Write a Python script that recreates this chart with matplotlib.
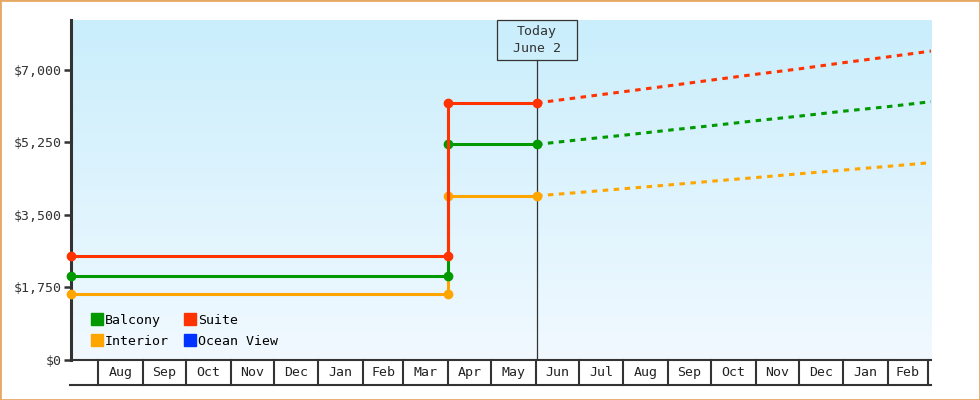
import matplotlib.pyplot as plt
import matplotlib.dates as mdates
import matplotlib.transforms as mtransforms
from matplotlib.patches import Rectangle
from matplotlib.lines import Line2D
import numpy as np
import datetime as dt

plt.rcParams['font.family'] = ['DejaVu Sans Mono']

# timeline
start = dt.date(2021, 7, 13)
end = dt.date(2023, 3, 3)
step_day = dt.date(2022, 4, 1)
today = dt.date(2022, 6, 2)

# price history: before / after the April change
names = ["Balcony", "Interior", "Suite", "Ocean View"]
colors = {"Balcony": "#009900", "Interior": "#ffa500", "Suite": "#ff3300", "Ocean View": "#0033ff"}
old_price = {"Balcony": 2030, "Interior": 1600, "Suite": 2500}
new_price = {"Balcony": 5200, "Interior": 3960, "Suite": 6200}

# forecast, monthly
fc_dates = [dt.date(2022, 6, 2), dt.date(2022, 7, 1), dt.date(2022, 8, 1), dt.date(2022, 9, 1),
            dt.date(2022, 10, 1), dt.date(2022, 11, 1), dt.date(2022, 12, 1), dt.date(2023, 1, 1),
            dt.date(2023, 2, 1), dt.date(2023, 3, 3)]
fc_suite = [6200, 6330, 6470, 6610, 6750, 6890, 7020, 7170, 7310, 7450]
fc_balcony = [5200, 5310, 5420, 5540, 5650, 5770, 5880, 6000, 6110, 6230]
fc_interior = [3960, 4040, 4130, 4220, 4310, 4400, 4490, 4580, 4670, 4760]
forecast = {"Suite": fc_suite, "Balcony": fc_balcony, "Interior": fc_interior}

y_ticks = [0, 1750, 3500, 5250, 7000]
month_starts = [dt.date(2021, 8, 1), dt.date(2021, 9, 1), dt.date(2021, 10, 1), dt.date(2021, 11, 1),
                dt.date(2021, 12, 1), dt.date(2022, 1, 1), dt.date(2022, 2, 1), dt.date(2022, 3, 1),
                dt.date(2022, 4, 1), dt.date(2022, 5, 1), dt.date(2022, 6, 1), dt.date(2022, 7, 1),
                dt.date(2022, 8, 1), dt.date(2022, 9, 1), dt.date(2022, 10, 1), dt.date(2022, 11, 1),
                dt.date(2022, 12, 1), dt.date(2023, 1, 1), dt.date(2023, 2, 1), dt.date(2023, 3, 1)]

dark = "#333333"

fig = plt.figure(figsize=(9.8, 4), dpi=100)
ax = fig.add_axes([71 / 980, 40 / 400, 860 / 980, 340 / 400])

x0, x1 = mdates.date2num(start), mdates.date2num(end)
ax.set_xlim(x0, x1)
ax.set_ylim(0, 8200)

# gradient background
grad = np.linspace(0, 1, 256).reshape(-1, 1)
top_c = np.array([202, 238, 252]) / 255
bot_c = np.array([241, 249, 255]) / 255
img = top_c * (1 - grad[..., None]) + bot_c * grad[..., None]
ax.imshow(img, extent=[0, 1, 0, 1], transform=ax.transAxes, aspect="auto", zorder=0)

lw = 2.2
for name in ["Interior", "Balcony", "Suite"]:
    c = colors[name]
    xs = [start, step_day, step_day, today]
    ys = [old_price[name], old_price[name], new_price[name], new_price[name]]
    ax.plot(mdates.date2num(xs), ys, color=c, lw=lw, marker="o", ms=6, zorder=3,
            solid_capstyle="butt", clip_on=False)
    ax.plot(mdates.date2num(fc_dates), forecast[name], color=c, lw=lw, dashes=(1.8, 1.8), zorder=3)

# today marker
t = mdates.date2num(today)
box_w = 80 / 860 * (x1 - x0)
blend = mtransforms.blended_transform_factory(ax.transData, ax.transAxes)
ax.plot([t, t], [0, 0.882], color=dark, lw=0.9, transform=blend, zorder=2)
ax.add_patch(Rectangle((t - box_w / 2, 0.882), box_w, 0.118, transform=blend,
                       fill=False, ec=dark, lw=0.9, zorder=4, clip_on=False))
ax.text(t, 0.941, "Today\nJune 2", transform=blend, ha="center", va="center",
        fontsize=9.5, color=dark, linespacing=1.45, zorder=5)

# axes styling
for s in ["top", "right", "bottom"]:
    ax.spines[s].set_visible(False)
ax.spines["left"].set_color(dark)
ax.spines["left"].set_linewidth(2.2)
ax.set_yticks(y_ticks)
ax.set_yticklabels(["${:,}".format(v) for v in y_ticks])
ax.tick_params(axis="y", length=5, width=1.8, color=dark, labelsize=9.5, labelcolor=dark, pad=2)
ax.set_xticks([])

# month cells below the plot
cell_h = -25 / 340
ax.plot([x0, x1], [0, 0], color=dark, lw=1.5, transform=blend, clip_on=False)
ax.plot([x0 - 1, x1], [cell_h, cell_h], color=dark, lw=1.5, transform=blend, clip_on=False)
ms = mdates.date2num(month_starts)
for m in ms:
    ax.plot([m, m], [0, cell_h], color=dark, lw=1.5, transform=blend, clip_on=False)
for a, b, d in zip(ms[:-1], ms[1:], month_starts[:-1]):
    ax.text((a + b) / 2, cell_h / 2, d.strftime("%b"), transform=blend, ha="center",
            va="center", fontsize=9.5, color="#222222")

# legend
handles = [Line2D([], [], ls="none", marker="s", ms=8, color=colors[n]) for n in
           ["Balcony", "Interior", "Suite", "Ocean View"]]
ax.legend(handles, ["Balcony", "Interior", "Suite", "Ocean View"], ncol=2, loc="lower left",
          bbox_to_anchor=(0.012, 0.005), frameon=False, fontsize=9.5, handlelength=0.8,
          handletextpad=0.2, columnspacing=1.2, labelspacing=0.6, borderpad=0.3)

fig.patches.append(Rectangle((0, 0), 1, 1, transform=fig.transFigure, fill=False,
                             ec="#e8a865", lw=2))

fig.savefig("out.png", dpi=100)
